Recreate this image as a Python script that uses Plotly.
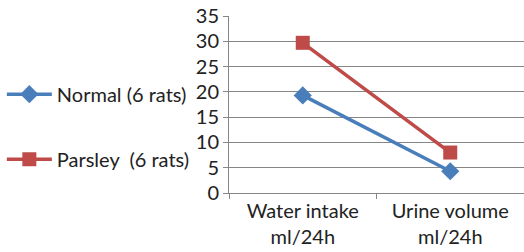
import plotly.graph_objects as go

categories = ["Water intake<br>ml/24h", "Urine volume<br>ml/24h"]
normal = [19.3, 4.3]
parsley = [29.7, 8.0]
series_names = ["Normal (6 rats)", "Parsley  (6 rats)"]

fig = go.Figure()
fig.add_trace(go.Scatter(x=categories, y=normal, name=series_names[0], mode="lines+markers",
                         line=dict(color="#4A7EBB", width=3.5),
                         marker=dict(symbol="diamond", size=14, color="#4A7EBB"),
                         legendgroup="a"))
fig.add_trace(go.Scatter(x=categories, y=parsley, name=series_names[1], mode="lines+markers",
                         line=dict(color="#BE4B48", width=3.5),
                         marker=dict(symbol="square", size=14, color="#BE4B48"),
                         legendgroup="b"))

fig.update_layout(
    width=524, height=252,
    margin=dict(l=229, r=0, t=16, b=59, autoexpand=False),
    paper_bgcolor="white", plot_bgcolor="white",
    font=dict(family="Lato, Liberation Sans, sans-serif", size=20, color="#222"),
    showlegend=True,
    legend=dict(x=-0.77, xanchor="left", y=0.375, yanchor="middle",
                traceorder="grouped", tracegroupgap=36,
                font=dict(size=20), itemwidth=45, bgcolor="rgba(0,0,0,0)"),
    xaxis=dict(type="category", range=[-0.5, 1.5], showgrid=False, automargin=False,
               showline=True, linecolor="#868686", linewidth=1,
               ticks="outside", tickson="boundaries", ticklen=5, tickcolor="#868686"),
    yaxis=dict(range=[0, 35], dtick=5, showgrid=True, gridcolor="#868686", gridwidth=1,
               automargin=False,
               showline=True, linecolor="#868686", linewidth=1,
               ticks="outside", ticklen=5, tickcolor="#868686", zeroline=False),
)

fig.write_html("out.html", config={"displayModeBar": False},
               post_script="document.body.style.margin='0px';document.body.style.overflow='hidden';")
